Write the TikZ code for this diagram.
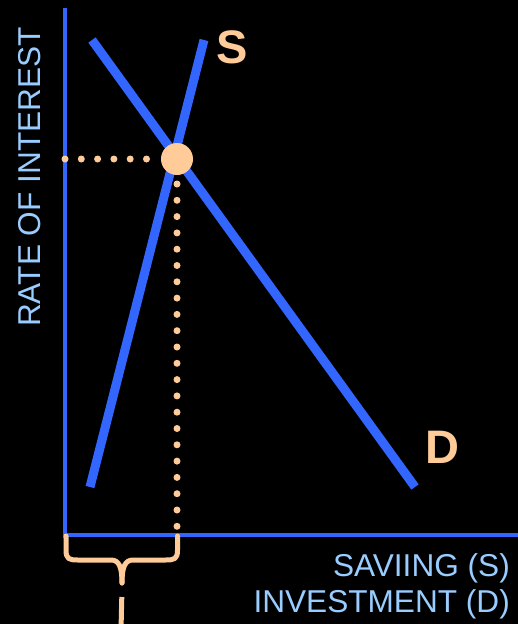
\documentclass[tikz,border=0pt]{standalone}
\usepackage{fontspec}
\setmainfont{Liberation Sans}
\begin{document}
\begin{tikzpicture}[x=1pt, y=-1pt, line cap=round, line join=round]
	\definecolor{axisblue}{HTML}{3366FF}
	\definecolor{peach}{HTML}{FFCC99}
	\definecolor{labelblue}{HTML}{99CCFF}
	\tikzset{
		axis/.style={axisblue, line width=4.5pt, line cap=butt},
		curve/.style={axisblue, line width=9pt, line cap=butt},
		dots/.style={peach, line width=7pt, line cap=round, dash pattern=on 0pt off 16.3pt},
		brace/.style={peach, line width=5pt},
		axislabel/.style={labelblue, font=\fontsize{31.6}{36}\selectfont, inner sep=0pt},
		curvelabel/.style={peach, font=\fontsize{47}{50}\selectfont\bfseries, inner sep=0pt}
	}
	% FRAME
	\fill[black] (0,0) rectangle (518,624);
	\useasboundingbox (0,0) rectangle (518,624);
	
	% AXES
	\coordinate (O) at (65,535);
	\coordinate (Ytop) at (65,8);
	\coordinate (Xend) at (520,535);
	\draw[axis] (Ytop) -- (65,537.5);
	\draw[axis] (O) -- (Xend);
	
	% SAVING AND INVESTMENT LINES
	\coordinate (S1) at (90,487);
	\coordinate (S2) at (204,40);
	\coordinate (D1) at (92,40);
	\coordinate (D2) at (415,487);
	\draw[curve] (S1) -- (S2);
	\draw[curve] (D1) -- (D2);
	
	% EQUILIBRIUM
	\node[circle, fill=peach, minimum size=32pt, inner sep=0pt] (E) at (177,159) {};
	\coordinate (Ey) at (65,159);
	\coordinate (Ex) at (177,527);
	\draw[dots] (Ey) -- (E.west);
	\draw[dots] (177,184) -- (Ex);
	
	% BRACE UNDER THE AXIS
	\coordinate (BL) at (66,536);
	\coordinate (BR) at (177.5,536);
	\coordinate (Btip) at (122,583);
	\draw[brace] (BL) -- (66,550) .. controls (66,559) and (69,560) .. (78,560) -- (111,560)
		.. controls (119,560) and (122,567) .. (Btip);
	\draw[brace] (BR) -- (177.5,550) .. controls (177.5,559) and (174.5,560) .. (165.5,560) -- (133,560)
		.. controls (125,560) and (122,567) .. (Btip);
	\draw[brace, line cap=butt] (121.8,597) -- (121,630);
	
	% LABELS
	\node[curvelabel] (Slab) at (232,47) {S};
	\node[curvelabel] (Dlab) at (442,447) {D};
	\node[axislabel, rotate=90] (rate) at (30,177) {RATE OF INTEREST};
	\node[axislabel, anchor=base east] (saving) at (510,576) {SAVIING (S)};
	\node[axislabel, anchor=base east] (invest) at (510,612) {INVESTMENT (D)};
\end{tikzpicture}
\end{document}
